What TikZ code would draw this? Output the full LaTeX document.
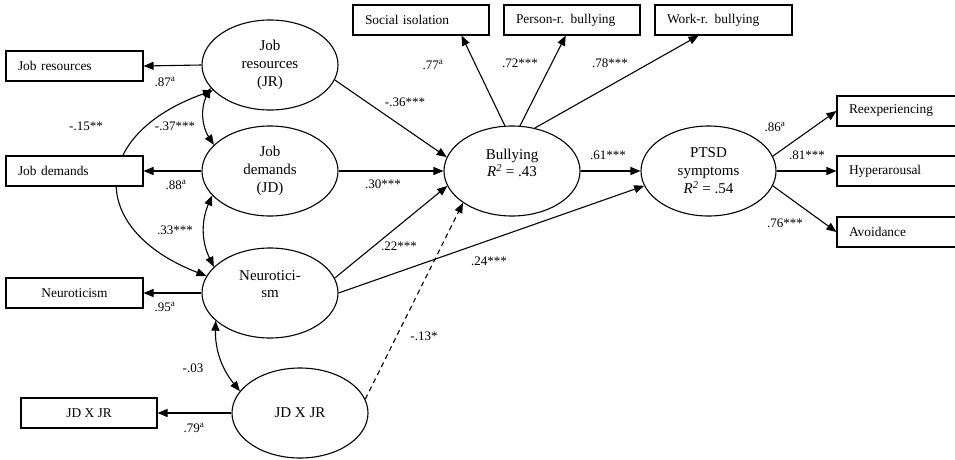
\documentclass[tikz,border=0pt]{standalone}
\usepackage{fontspec}
\setmainfont{Liberation Serif}
\usetikzlibrary{arrows.meta,shapes.geometric,backgrounds}
\begin{document}
\begin{tikzpicture}[x=1pt,y=-1pt,
  lv/.style={draw,line width=1.1pt,ellipse,minimum width=136pt,minimum height=90pt,inner sep=0pt,align=center,font=\fontsize{15}{18}\selectfont},
  lvtext/.style={align=center,inner sep=0pt,font=\fontsize{15}{17.5}\selectfont},
  obsl/.style={draw,fill=white,line width=1.1pt,rectangle,minimum height=30pt,inner ysep=0pt,inner xsep=12pt,align=left,font=\fontsize{13.4}{16}\selectfont},
  obsc/.style={draw,fill=white,line width=1.1pt,rectangle,minimum height=30pt,inner sep=0pt,align=center,font=\fontsize{13.4}{16}\selectfont},
  coef/.style={inner sep=0pt,font=\fontsize{13}{15}\selectfont},
  arr/.style={-{Triangle[length=10pt,width=8pt]},line width=1.1pt},
  dbl/.style={{Triangle[length=10pt,width=8pt]}-{Triangle[length=10pt,width=8pt]},line width=1.1pt},
]
\useasboundingbox (0,0) rectangle (955,460);

% observed indicators
\node[obsl,text width=113pt] (jrbox) at (74.5,66) {Job resources};
\node[obsl,text width=113pt] (jdbox) at (74.5,171) {Job demands};
\node[obsc,minimum width=137pt] (neubox) at (74.5,293) {Neuroticism};
\node[obsc,minimum width=136pt] (jxbox) at (89,413) {JD X JR};
\node[obsl,text width=112pt] (socbox) at (421,20) {Social isolation};
\node[obsl,text width=112pt] (perbox) at (572,20) {Person-r. bullying};
\node[obsl,text width=113pt] (workbox) at (723.5,20) {Work-r. bullying};
\node[obsl,text width=101pt] (reexbox) at (899.5,111) {Reexperiencing};
\node[obsl,text width=101pt] (hypbox) at (899.5,171) {Hyperarousal};
\node[obsl,text width=101pt] (avobox) at (899.5,232) {Avoidance};

% latent variables
\node[lv] (jr) at (270,65) {Job\\resources\\(JR)};
\node[lv] (jd) at (270,171) {Job\\demands\\(JD)};
\node[lv] (neu) at (270,293) {};
\node[lvtext] (neulab) at (270,284) {Neurotici-\\sm};
\node[lv] (jx) at (300,413) {JD X JR};
\node[lv] (bul) at (512,171) {};
\node[lvtext] (bullab) at (512,163) {Bullying\\\textit{R}\textsuperscript{\textit{2}} = .43};
\node[lv,minimum width=135pt] (ptsd) at (708.5,171) {PTSD\\symptoms\\\textit{R}\textsuperscript{\textit{2}} = .54};

% measurement paths
\draw[arr] (jr.west) -- (jrbox.east);
\draw[arr] (jd.west) -- (jdbox.east);
\draw[arr] (neu.west) -- (neubox.east);
\draw[arr] (jx.west) -- (jxbox.east);
\draw[arr] (bul.99) -- (socbox.-21);
\draw[arr] (bul.80) -- (perbox.-112);
\draw[arr] (bul.62) -- (workbox.-148.5);
\draw[arr] (ptsd.13) -- (reexbox.west);
\draw[arr] (ptsd.east) -- (hypbox.west);
\draw[arr] (ptsd.-13) -- (avobox.west);

% structural paths
\draw[arr] (jr.-13) -- (bul.168);
\draw[arr] (jd.east) -- (bul.west);
\draw[arr] (neu.13) -- (bul.193);
\draw[arr] (neu.east) -- (ptsd.193);
\draw[arr,dash pattern=on 5pt off 4pt] (jx.12.5) -- (bul.213);
\draw[arr] (bul.east) -- (ptsd.west);

% covariances
\draw[dbl] (jr.201) to[bend right=30] (jd.155);
\draw[dbl] (jd.203) to[bend right=25] (neu.155);
\draw[dbl] (neu.207) to[bend right=20] (jx.160);
\begin{pgfonlayer}{background}
\draw[dbl] (jr.204) .. controls (88,135) and (88,230) .. (neu.165);
\end{pgfonlayer}

% coefficients
\node[coef] (c87) at (165,82) {.87\textsuperscript{a}};
\node[coef] (c88) at (176,185) {.88\textsuperscript{a}};
\node[coef] (c95) at (165,307) {.95\textsuperscript{a}};
\node[coef] (c79) at (194,428) {.79\textsuperscript{a}};
\node[coef] (c15) at (86,126) {-.15**};
\node[coef] (c37) at (175,126) {-.37***};
\node[coef] (c33) at (175,230) {.33***};
\node[coef] (c03) at (193,368) {-.03};
\node[coef] (c36) at (405,102) {-.36***};
\node[coef] (c30) at (383,184) {.30***};
\node[coef] (c22) at (399,246) {.22***};
\node[coef] (c24) at (489,261) {.24***};
\node[coef] (c13) at (424,336) {-.13*};
\node[coef] (c77) at (433,65) {.77\textsuperscript{a}};
\node[coef] (c72) at (520,63) {.72***};
\node[coef] (c78) at (610,63) {.78***};
\node[coef] (c61) at (608,155) {.61***};
\node[coef] (c86) at (775,127) {.86\textsuperscript{a}};
\node[coef] (c81) at (807,155) {.81***};
\node[coef] (c76) at (785,223) {.76***};
\end{tikzpicture}
\end{document}
